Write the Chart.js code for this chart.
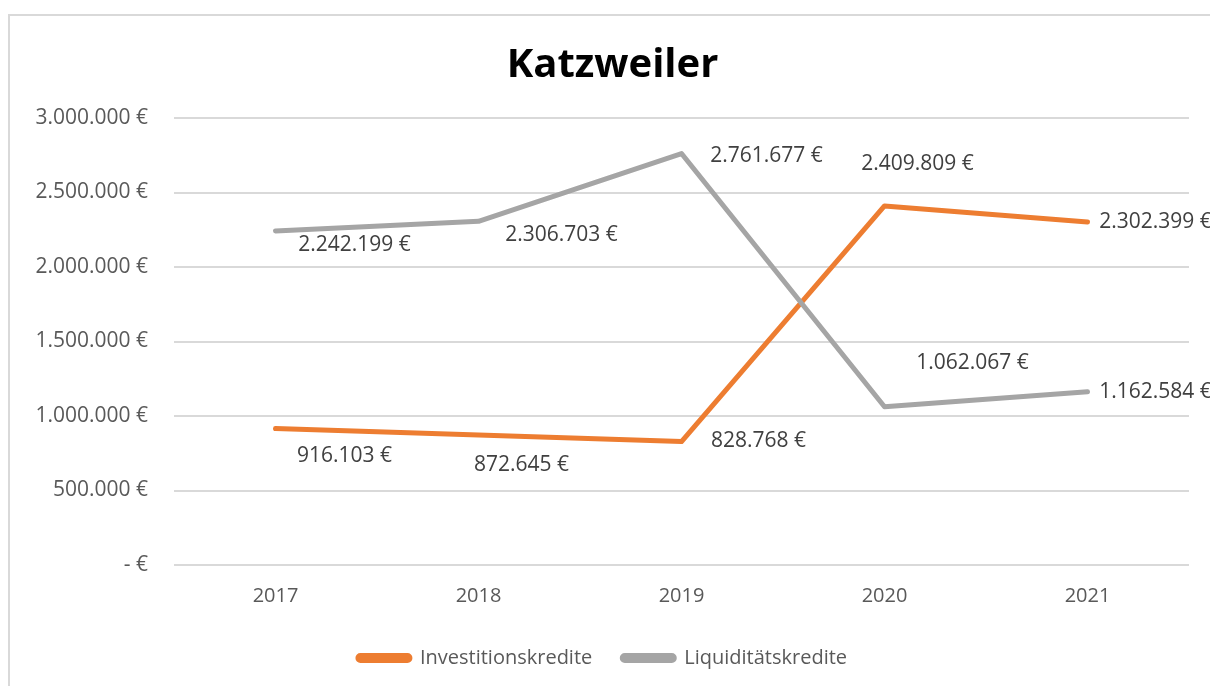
<!DOCTYPE html>
<html>
<head>
<meta charset="utf-8">
<script src="https://cdn.jsdelivr.net/npm/chart.js@4/dist/chart.umd.min.js"></script>
<style>
html,body{margin:0;padding:0;background:#fff;}
#wrap{position:absolute;left:0;top:0;width:1210px;height:686px;}
</style>
</head>
<body>
<div id="wrap"><canvas id="c" width="1210" height="686"></canvas></div>
<script>
const categories = ['2017', '2018', '2019', '2020', '2021'];
const investitionskredite = [916103, 872645, 828768, 2409809, 2302399];
const liquiditaetskredite = [2242199, 2306703, 2761677, 1062067, 1162584];
const seriesNames = ['Investitionskredite', 'Liquiditätskredite'];
const chartTitle = 'Katzweiler';

// label placement offsets (pixels relative to point) — styling only
const labelOffsets = [
  [[69, 28], [43, 30], [77, 0], [33, -42], [68, 0]],
  [[79, 14], [83, 14], [85, 3], [88, -44], [68, 0]]
];

const FONT = '"Open Sans", Lato, sans-serif';

function fmt(v) {
  if (v === 0) return '- €';
  const s = String(Math.round(v)).replace(/\B(?=(\d{3})+(?!\d))/g, '.');
  return s + ' €';
}

const borderPlugin = {
  id: 'frame',
  afterLayout(chart) {
    if (chart.legend) {
      chart.legend.left -= 10;
      chart.legend.right -= 10;
    }
  },
  beforeDraw(chart) {
    const ctx = chart.ctx;
    ctx.save();
    ctx.fillStyle = '#fff';
    ctx.fillRect(0, 0, chart.width, chart.height);
    ctx.strokeStyle = '#d9d9d9';
    ctx.lineWidth = 2;
    ctx.beginPath();
    ctx.moveTo(9, chart.height);
    ctx.lineTo(9, 15);
    ctx.lineTo(chart.width, 15);
    ctx.stroke();
    ctx.restore();
  }
};

const labelPlugin = {
  id: 'dataLabels',
  afterDatasetsDraw(chart) {
    const ctx = chart.ctx;
    ctx.save();
    ctx.font = '21px ' + FONT;
    ctx.fillStyle = '#404040';
    ctx.textAlign = 'center';
    ctx.textBaseline = 'middle';
    chart.data.datasets.forEach((ds, di) => {
      const meta = chart.getDatasetMeta(di);
      meta.data.forEach((pt, i) => {
        const off = labelOffsets[di][i];
        ctx.fillText(fmt(ds.data[i]), pt.x + off[0], pt.y + off[1]);
      });
    });
    ctx.restore();
  }
};

new Chart(document.getElementById('c'), {
  type: 'line',
  data: {
    labels: categories,
    datasets: [
      {
        label: seriesNames[0],
        data: investitionskredite,
        borderColor: '#ED7D31',
        backgroundColor: '#ED7D31',
        borderWidth: 5,
        pointRadius: 0,
        tension: 0,
        borderCapStyle: 'round',
        borderJoinStyle: 'round',
        order: 1
      },
      {
        label: seriesNames[1],
        data: liquiditaetskredite,
        borderColor: '#A5A5A5',
        backgroundColor: '#A5A5A5',
        borderWidth: 5,
        pointRadius: 0,
        tension: 0,
        borderCapStyle: 'round',
        borderJoinStyle: 'round',
        order: 0
      }
    ]
  },
  options: {
    responsive: false,
    animation: false,
    devicePixelRatio: 1,
    layout: { padding: { left: 36, right: 21, top: 0, bottom: 8 } },
    plugins: {
      tooltip: { enabled: false },
      title: {
        display: true,
        text: chartTitle,
        color: '#000',
        font: { family: FONT, size: 40, weight: 'bold' },
        padding: { top: 42, bottom: 28 }
      },
      legend: {
        position: 'bottom',
        labels: {
          sort: (a, b) => a.datasetIndex - b.datasetIndex,
          color: '#595959',
          font: { family: FONT, size: 20 },
          boxWidth: 52,
          boxHeight: 5,
          useBorderRadius: true,
          borderRadius: 2.5,
          padding: 30
        }
      }
    },
    scales: {
      x: {
        offset: true,
        grid: { display: false, drawTicks: false },
        border: { display: false },
        ticks: { color: '#595959', font: { family: FONT, size: 20 }, padding: 19 },
        afterFit(scale) { scale.height = 53; }
      },
      y: {
        min: 0,
        max: 3000000,
        grid: { color: '#d9d9d9', lineWidth: 2, drawTicks: false },
        border: { display: false },
        ticks: {
          stepSize: 500000,
          color: '#595959',
          font: { family: FONT, size: 21 },
          padding: 26,
          callback: (v) => fmt(v)
        },
        afterFit(scale) { scale.width = 138; }
      }
    }
  },
  plugins: [borderPlugin, labelPlugin]
});
</script>
</body>
</html>
